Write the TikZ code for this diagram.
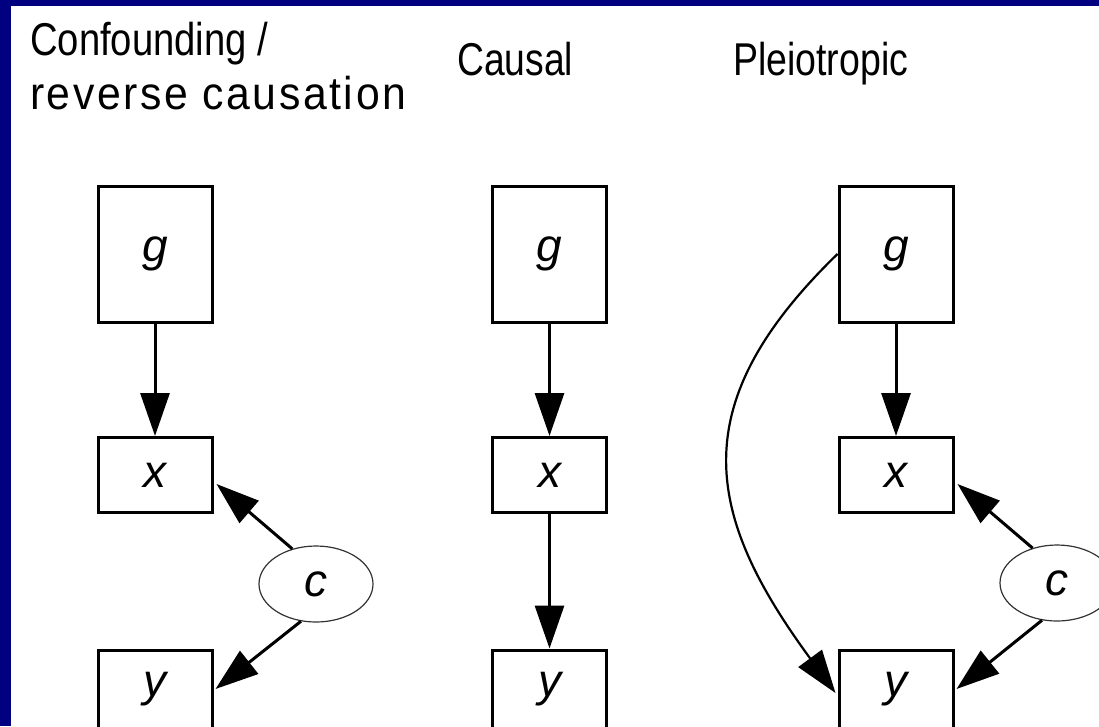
\documentclass[tikz,border=0pt]{standalone}
\usepackage{fontspec}
\usepackage{graphicx}
\setmainfont{Liberation Sans}
\newfontfamily\widefont[LetterSpace=6]{Liberation Sans}
\usetikzlibrary{arrows.meta,shapes.geometric,calc}
\definecolor{navy}{HTML}{000080}
\newcommand{\ttl}[2]{\resizebox{#1}{\height}{\fontsize{46}{48}\selectfont #2}}
\begin{document}
\begin{tikzpicture}[x=1pt,y=-1pt,
  title/.style={anchor=base west, inner sep=0pt},
  box/.style={draw, line width=3pt, inner sep=0pt, minimum width=114pt, font=\fontsize{46}{46}\selectfont\itshape},
  gbox/.style={box, minimum height=136pt},
  sbox/.style={box, minimum height=75pt},
  hub/.style={ellipse, draw=black!80, line width=1.2pt, minimum width=114pt, minimum height=76pt, inner sep=0pt, font=\fontsize{46}{46}\selectfont\itshape},
  arr/.style={line width=3pt, -{Triangle[length=43pt,width=29pt]}},
  curvearr/.style={line width=2.2pt, -{Triangle[length=43pt,width=29pt]}}]
\useasboundingbox (0,0) rectangle (1099,726);
\fill[navy] (0,0) rectangle (1099,726);
\fill[white] (11,6) rectangle (1099,726);
% titles
\node[title] (t1a) at (30,55) {\ttl{238pt}{Confounding /}};
\node[title] (t1b) at (30,109) {\ttl{376pt}{\widefont reverse causation}};
\node[title] (t2) at (457,75) {\ttl{116pt}{Causal}};
\node[title] (t3) at (733,75) {\ttl{175pt}{Pleiotropic}};
% left column
\node[gbox] (g1) at (155,254) {g};
\node[sbox] (x1) at (155,475) {x};
\node[sbox, minimum height=78pt] (y1) at (155,689) {y};
\node[hub] (c1) at (316,584) {c};
% middle column
\node[gbox] (g2) at (549.5,254) {g};
\node[sbox] (x2) at (549.5,475) {x};
\node[sbox, minimum height=78pt] (y2) at (549.5,689) {y};
% right column
\node[gbox] (g3) at (896,254) {g};
\node[sbox] (x3) at (896,475) {x};
\node[sbox, minimum height=78pt] (y3) at (896,689) {y};
\node[hub] (c3) at (1057,583) {c};
% arrows
\draw[arr] (g1) -- (x1);
\draw[arr] (c1.124) -- ([xshift=3pt,yshift=-9pt]x1.east);
\draw[arr] (c1.248) -- ([xshift=2pt]y1.east);
\draw[arr] (g2) -- (x2);
\draw[arr] (x2) -- (y2);
\draw[arr] (g3) -- (x3);
\draw[arr] (c3.125) -- ([xshift=3pt,yshift=-9pt]x3.east);
\draw[arr] (c3.248) -- ([xshift=2pt]y3.east);
\draw[curvearr] (g3.west) .. controls (682,405) and (705,515) .. ([xshift=-2pt,yshift=-4pt]y3.west);
\end{tikzpicture}
\end{document}
